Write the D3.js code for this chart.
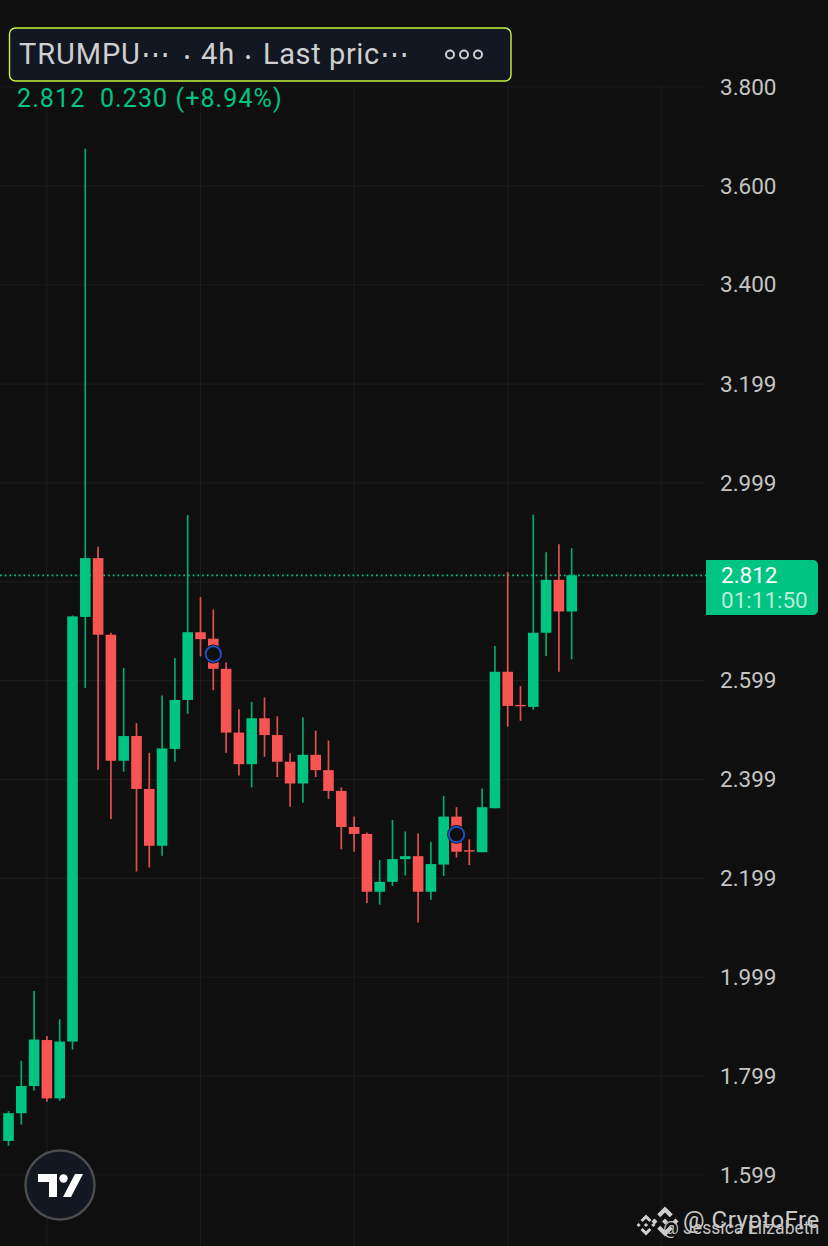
<!DOCTYPE html>
<html>
<head>
<meta charset="utf-8">
<script src="https://cdn.jsdelivr.net/npm/d3@7"></script>
<style>
html, body { margin: 0; padding: 0; background: #0f0f0f; overflow: hidden; }
text { font-family: Roboto, sans-serif; }
</style>
</head>
<body>
<div id="container"></div>
<script>
/* CONSTANTS AND GLOBALS */
const width = 828, height = 1246;
const plotRight = 705;
const green = "#00c482", red = "#f95454";

/* DATA, one entry per 4h candle */
const opens = [1.668,1.724,1.779,1.872,1.754,1.869,2.728,2.847,2.692,2.437,2.487,2.380,2.265,2.461,2.560,
  2.697,2.684,2.623,2.494,2.430,2.523,2.489,2.435,2.391,2.449,2.418,2.376,2.303,2.289,2.172,
  2.192,2.238,2.244,2.172,2.227,2.324,2.256,2.252,2.341,2.617,2.550,2.546,2.696,2.803,2.739];
const highs = [1.728,1.830,1.971,1.880,1.914,2.731,3.675,2.870,2.696,2.625,2.513,2.453,2.569,2.645,2.934,
  2.768,2.743,2.636,2.541,2.556,2.565,2.527,2.452,2.525,2.498,2.478,2.383,2.324,2.292,2.236,
  2.317,2.294,2.290,2.273,2.366,2.343,2.278,2.381,2.669,2.819,2.588,2.935,2.859,2.875,2.867];
const lows = [1.658,1.701,1.770,1.747,1.749,1.853,2.584,2.419,2.319,2.415,2.213,2.221,2.245,2.435,2.532,
  2.648,2.580,2.453,2.407,2.383,2.445,2.404,2.344,2.352,2.404,2.360,2.258,2.253,2.149,2.146,
  2.184,2.205,2.110,2.156,2.204,2.241,2.226,2.252,2.341,2.506,2.518,2.540,2.649,2.617,2.642];
const closes = [1.724,1.779,1.873,1.754,1.869,2.729,2.847,2.692,2.437,2.487,2.380,2.265,2.462,2.560,2.697,
  2.683,2.623,2.494,2.430,2.523,2.489,2.435,2.391,2.449,2.418,2.376,2.303,2.289,2.172,2.192,
  2.238,2.244,2.172,2.228,2.324,2.253,2.254,2.343,2.617,2.548,2.548,2.696,2.803,2.739,2.812];

const tickLabels = ["3.800","3.600","3.400","3.199","2.999","2.599","2.399","2.199","1.999","1.799","1.599"];
const gridPrices = [3.8,3.6,3.4,3.199,2.999,2.799,2.599,2.399,2.199,1.999,1.799,1.599];
const gridCandles = [3,15,27,39,51]; // vertical lines every 12 candles

const markerCandles = [16,35];
const markerPrices = [2.653,2.288];

const lastPrice = 2.812;

const candles = opens.map((o, i) => ({ i, o, h: highs[i], l: lows[i], c: closes[i] }));

// SCALES
const xScale = d3.scaleLinear().domain([0, 44]).range([8.5, 571.7]);
const yScale = d3.scaleLinear().domain([1.599, 3.8]).range([1175, 87]);
const bodyWidth = 10.6;

// CREATE SVG ELEMENT
const svg = d3.select("#container")
  .append("svg")
  .attr("width", width)
  .attr("height", height)
  .style("display", "block");

svg.append("rect").attr("width", width).attr("height", height).attr("fill", "#0f0f0f");

// GRID
svg.append("g").selectAll("line")
  .data(gridPrices)
  .join("line")
  .attr("x1", 0)
  .attr("x2", plotRight)
  .attr("y1", d => yScale(d))
  .attr("y2", d => yScale(d))
  .attr("stroke", "#1b1b1b")
  .attr("stroke-width", 1.2);

svg.append("g").selectAll("line")
  .data(gridCandles)
  .join("line")
  .attr("x1", d => xScale(d))
  .attr("x2", d => xScale(d))
  .attr("y1", 85)
  .attr("y2", height)
  .attr("stroke", "#1b1b1b")
  .attr("stroke-width", 1.2);

// PRICE LABELS
const yAxis = d3.axisRight(yScale)
  .tickValues(gridPrices.filter(d => tickLabels.includes(d.toFixed(3))))
  .tickFormat(d3.format(".3f"))
  .tickSize(0)
  .tickPadding(0);

const axisG = svg.append("g")
  .attr("transform", "translate(720,0)")
  .call(yAxis);
axisG.select(".domain").remove();
axisG.selectAll("text")
  .attr("fill", "#c4c4c4")
  .style("font-family", "Roboto, sans-serif")
  .style("font-size", "22.5px");

// LAST PRICE LINE
svg.append("line")
  .attr("x1", 0)
  .attr("x2", 706)
  .attr("y1", yScale(lastPrice))
  .attr("y2", yScale(lastPrice))
  .attr("stroke", green)
  .attr("stroke-width", 1.6)
  .attr("stroke-dasharray", "1.7 3");

// WICKS
svg.append("g").selectAll("line")
  .data(candles)
  .join("line")
  .attr("x1", d => xScale(d.i))
  .attr("x2", d => xScale(d.i))
  .attr("y1", d => yScale(d.h))
  .attr("y2", d => yScale(d.l))
  .attr("stroke", d => d.c >= d.o ? "#03a873" : "#e04f4f")
  .attr("stroke-width", 1.7);

// BODIES
svg.append("g").selectAll("rect")
  .data(candles)
  .join("rect")
  .attr("x", d => xScale(d.i) - bodyWidth / 2)
  .attr("width", bodyWidth)
  .attr("y", d => yScale(Math.max(d.o, d.c)))
  .attr("height", d => Math.max(1.4, Math.abs(yScale(d.o) - yScale(d.c))))
  .attr("fill", d => d.c >= d.o ? green : red);

// BLUE EVENT MARKERS - dark halo cuts into the candle behind
svg.append("g").selectAll("circle")
  .data(markerCandles)
  .join("circle")
  .attr("cx", d => xScale(d))
  .attr("cy", (d, i) => yScale(markerPrices[i]))
  .attr("r", 9.4)
  .attr("fill", "#0f0f0f");

svg.append("g").selectAll("circle")
  .data(markerCandles)
  .join("circle")
  .attr("cx", d => xScale(d))
  .attr("cy", (d, i) => yScale(markerPrices[i]))
  .attr("r", 7.7)
  .attr("fill", "none")
  .attr("stroke", "#1f4fc4")
  .attr("stroke-width", 1.9);

// HEADER BOX
svg.append("rect")
  .attr("x", 9.5).attr("y", 28)
  .attr("width", 501.5).attr("height", 53)
  .attr("rx", 6)
  .attr("fill", "#131722")
  .attr("stroke", "#c8f542")
  .attr("stroke-width", 1.4);

const headerText = svg.append("text")
  .attr("x", 19).attr("y", 64)
  .attr("fill", "#cfcfcf")
  .style("font-size", "29px")
  .style("letter-spacing", "0.9px");
headerText.append("tspan").text("TRUMPU\u22EF");
headerText.append("tspan").attr("x", 184).text("\u2022").style("font-size", "18px");
headerText.append("tspan").attr("x", 201).text("4h");
headerText.append("tspan").attr("x", 245).text("\u2022").style("font-size", "18px");
headerText.append("tspan").attr("x", 263).style("letter-spacing", "0.6px").text("Last pric\u22EF");

// three little rings
svg.append("g").selectAll("circle")
  .data([450, 464, 478])
  .join("circle")
  .attr("cx", d => d)
  .attr("cy", 54.5)
  .attr("r", 4)
  .attr("fill", "none")
  .attr("stroke", "#cfcfcf")
  .attr("stroke-width", 2);

svg.append("text")
  .attr("x", 17).attr("y", 107)
  .attr("fill", green)
  .style("font-size", "25px")
  .style("letter-spacing", "1.1px")
  .style("white-space", "pre")
  .text("2.812  0.230 (+8.94%)");

// LAST PRICE TAG
svg.append("path")
  .attr("d", "M706,560H813a5,5 0 0 1 5,5V610a5,5 0 0 1 -5,5H706Z")
  .attr("fill", green);
svg.append("text")
  .attr("x", 721).attr("y", 583)
  .attr("fill", "#ffffff")
  .style("font-size", "22.5px")
  .text("2.812");
svg.append("text")
  .attr("x", 721).attr("y", 608)
  .attr("fill", "#b8eedb")
  .style("font-size", "22.5px")
  .text("01:11:50");

// TV LOGO
const logo = svg.append("g").attr("transform", "translate(60,1185)");
logo.append("circle")
  .attr("r", 34.5)
  .attr("fill", "#131722")
  .attr("stroke", "#4c4c4e")
  .attr("stroke-width", 2.4);
logo.append("path")
  .attr("d", "M-22,-11H-3V12H-11V-3H-22Z M15,-11H23L11,12H3Z")
  .attr("fill", "#ffffff");
logo.append("circle")
  .attr("cx", 3.5).attr("cy", -6.5).attr("r", 4.2)
  .attr("fill", "#ffffff");

// WATERMARK - two overlapping exchange logos and two handles
const coinPath = "M0,-1L.52,-.48L.32,-.28L0,-.6L-.32,-.28L-.52,-.48Z" +
  "M0,1L.52,.48L.32,.28L0,.6L-.32,.28L-.52,.48Z" +
  "M0,-.2L.2,0L0,.2L-.2,0Z" +
  "M-.7,-.2L-.5,0L-.7,.2L-.9,0Z" +
  "M.7,-.2L.9,0L.7,.2L.5,0Z";
[[646, 1225, 10.5], [665, 1221.5, 15]].forEach(p => {
  svg.append("path")
    .attr("d", coinPath)
    .attr("transform", `translate(${p[0]},${p[1]}) scale(${p[2]})`)
    .attr("fill", "#cfcfcf");
});
svg.append("text")
  .attr("x", 683).attr("y", 1228)
  .attr("fill", "#c9c9c9")
  .style("font-size", "24px")
  .style("letter-spacing", "0.5px")
  .text("@ CryptoFre");
svg.append("text")
  .attr("x", 663).attr("y", 1234)
  .attr("fill", "#c4c4c4")
  .style("font-size", "17.6px")
  .text("@ Jessica Elizabeth");
</script>
</body>
</html>
